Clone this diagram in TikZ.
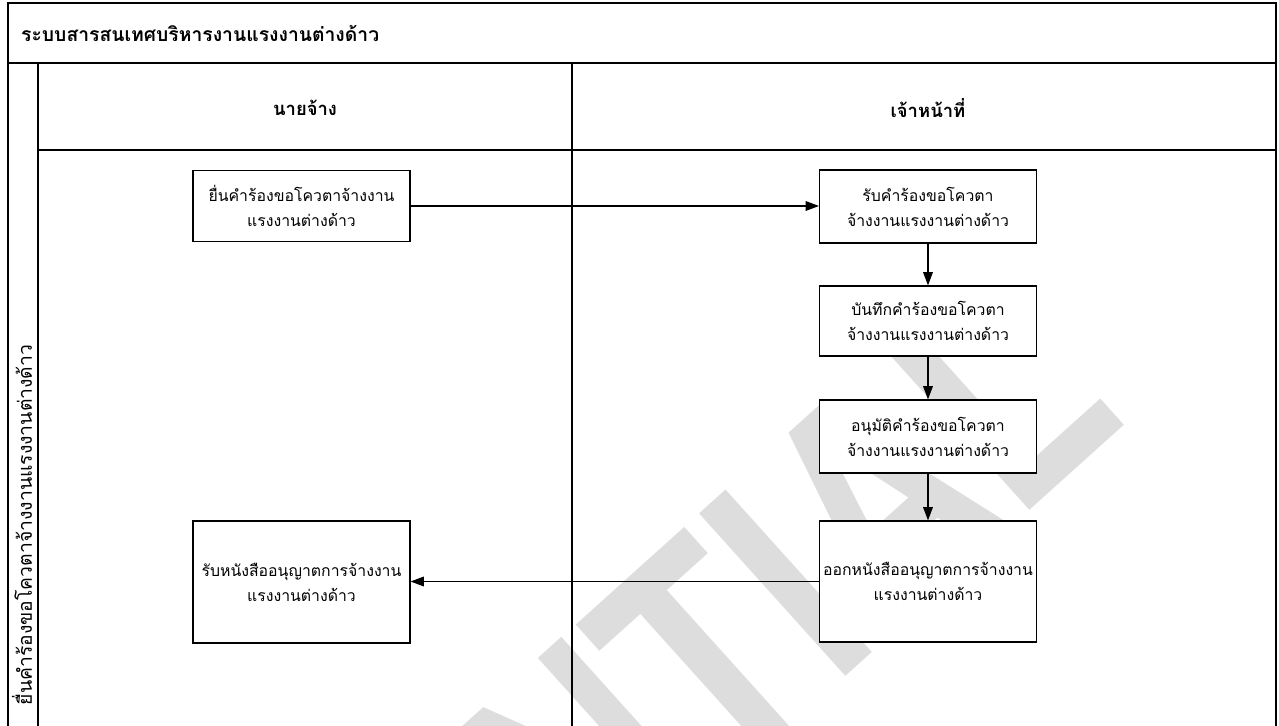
\documentclass[tikz,border=0pt]{standalone}
\usepackage{fontspec}
\setmainfont{Loma}[Script=Thai]
\newfontfamily\markfont{Liberation Sans}
\usetikzlibrary{arrows.meta, positioning}
\definecolor{markgray}{RGB}{221,221,221}

\tikzset{
  task/.style={draw, fill=white, line width=0.7pt, minimum width=4.34cm, minimum height=1.42cm,
    align=center, inner sep=0pt, font=\fontsize{9}{14.2}\selectfont},
  flow/.style={-{Triangle[length=7.5pt,width=5.5pt]}, line width=0.6pt},
  lane/.style={line width=0.6pt}
}

\begin{document}
\begin{tikzpicture}[x=0.02cm, y=-0.02cm]
  \useasboundingbox (0,0) rectangle (1279,726);
  \begin{scope}
    \clip (0,0) rectangle (1279,726);
    \node[anchor=base, rotate=42, text=markgray, font=\markfont\bfseries\fontsize{181}{181}\selectfont] (mark) at (444,1038) {\scalebox{0.78}[1]{CONFIDENTIAL}};
  \end{scope}

  \draw[lane] (8,726) -- (8,3) -- (1276,3) -- (1276,726);
  \draw[lane] (8,63) -- (1276,63);
  \draw[lane] (38,63) -- (38,726);
  \draw[lane] (38,150) -- (1276,150);
  \draw[lane] (572,63) -- (572,726);

  \node[anchor=west, font=\bfseries\fontsize{11}{14}\selectfont] (title) at (15,33) {ระบบสารสนเทศบริหารงานแรงงานต่างด้าว};
  \node[font=\bfseries\fontsize{10.5}{13}\selectfont] (employer) at (305,108) {นายจ้าง};
  \node[font=\bfseries\fontsize{10.5}{13}\selectfont] (officer) at (928,108) {เจ้าหน้าที่};
  \node[rotate=90, font=\fontsize{11}{13}\selectfont] (process) at (22,525) {ยื่นคำร้องขอโควตาจ้างงานแรงงานต่างด้าว};

  \node[task] (submit) at (301.5,206) {ยื่นคำร้องขอโควตาจ้างงาน\\แรงงานต่างด้าว};
  \node[task, minimum height=1.46cm] (receive) at (928,206.5) {รับคำร้องขอโควตา\\จ้างงานแรงงานต่างด้าว};
  \node[task, minimum height=1.40cm] (record) at (928,321) {บันทึกคำร้องขอโควตา\\จ้างงานแรงงานต่างด้าว};
  \node[task, minimum height=1.46cm] (approve) at (928,436.5) {อนุมัติคำร้องขอโควตา\\จ้างงานแรงงานต่างด้าว};
  \node[task, minimum height=2.42cm] (issue) at (928,581.5) {ออกหนังสืออนุญาตการจ้างงาน\\แรงงานต่างด้าว};
  \node[task, minimum height=2.44cm] (get) at (301.5,582) {รับหนังสืออนุญาตการจ้างงาน\\แรงงานต่างด้าว};

  \draw[flow] (submit.east) -- (receive.west |- submit.east);
  \draw[flow] (receive) -- (record);
  \draw[flow] (record) -- (approve);
  \draw[flow] (approve) -- (issue);
  \draw[flow] (issue.west) -- (get.east |- issue.west);
\end{tikzpicture}
\end{document}
